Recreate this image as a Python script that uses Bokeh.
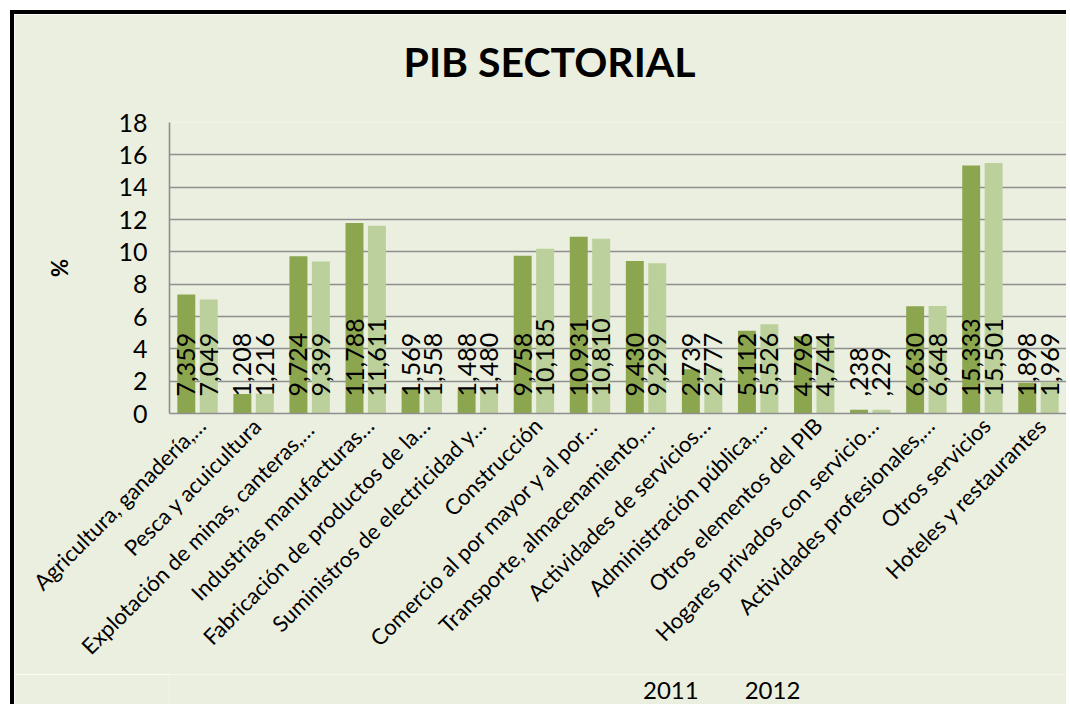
import math
from bokeh.plotting import figure
from bokeh.layouts import column, row
from bokeh.models import ColumnDataSource, Range1d, FixedTicker, Legend, LegendItem, Title, Div, Spacer
from bokeh.core.properties import value
from bokeh.embed import file_html
from bokeh.resources import INLINE

categories = [
    "Agricultura, ganadería,…",
    "Pesca y acuicultura",
    "Explotación  de minas, canteras,…",
    "Industrias manufacturas…",
    "Fabricación de productos de la…",
    "Suministros de electricidad y…",
    "Construcción",
    "Comercio al por mayor y al por…",
    "Transporte, almacenamiento,…",
    "Actividades de servicios…",
    "Administración pública,…",
    "Otros elementos del PIB",
    "Hogares privados con servicio…",
    "Actividades profesionales,…",
    "Otros servicios",
    "Hoteles y restaurantes",
]
values_2011 = [7.359, 1.208, 9.724, 11.788, 1.569, 1.488, 9.758, 10.931, 9.430, 2.739, 5.112, 4.796, 0.238, 6.630, 15.333, 1.898]
values_2012 = [7.049, 1.216, 9.399, 11.611, 1.558, 1.480, 10.185, 10.810, 9.299, 2.777, 5.526, 4.744, 0.229, 6.648, 15.501, 1.969]
series_names = ["2011", "2012"]
y_ticks = [0, 2, 4, 6, 8, 10, 12, 14, 16, 18]
title_text = "PIB SECTORIAL"
y_label = "%"

BG = "#EBEFDF"
C2011 = "#8CA650"
C2012 = "#BBD09A"
GRID = "#8E8E8E"
FONT = "Lato"

BAR_OFF = 0.2     # offset of each series' bar from the category centre
BAR_W = 0.32
LABEL_SHIFT = 0.07  # category label anchor shift (Excel-like placement)


def fmt(v):
    s = f"{v:.3f}".replace(".", ",")
    if s.startswith("0,"):
        s = s[1:]
    return s


n = len(categories)
centers = [i + 0.5 for i in range(n)]
src = ColumnDataSource(dict(
    x1=[c - BAR_OFF for c in centers],
    x2=[c + BAR_OFF for c in centers],
    v2011=values_2011,
    v2012=values_2012,
    t2011=[fmt(v) for v in values_2011],
    t2012=[fmt(v) for v in values_2012],
    zero=[0] * n,
))

# ---------------- main chart ----------------
p = figure(
    x_range=Range1d(0, n),
    y_range=Range1d(0, y_ticks[-1]),
    width=1052, height=660,
    output_backend="svg", toolbar_location=None,
    min_border_left=155, min_border_right=0, min_border_top=108, min_border_bottom=261,
    margin=0,
)
p.background_fill_color = BG
p.border_fill_color = BG
p.outline_line_color = None

p.vbar(x="x1", top="v2011", width=BAR_W, source=src, fill_color=C2011, line_color=None)
p.vbar(x="x2", top="v2012", width=BAR_W, source=src, fill_color=C2012, line_color=None)

for xcol, tcol in (("x1", "t2011"), ("x2", "t2012")):
    p.text(x=xcol, y="zero", text=tcol, source=src,
           angle=math.pi / 2, text_align="left", text_baseline="middle",
           y_offset=-17, text_font=value(FONT), text_font_size="25px", text_color="black")

# spacer between plot area and title, then the title itself
p.add_layout(Title(text=" ", text_font_size="20px", standoff=8), "above")
p.add_layout(Title(text=title_text, align="left", offset=234, text_font=FONT,
                   text_font_size="41px", text_font_style="bold", text_color="black",
                   standoff=10), "above")

p.xgrid.grid_line_color = None
p.ygrid.grid_line_color = GRID
p.ygrid.grid_line_width = 1.6
p.yaxis.ticker = FixedTicker(ticks=y_ticks)
p.yaxis.axis_line_color = GRID
p.yaxis.axis_line_width = 1.6
p.yaxis.major_tick_line_color = None
p.yaxis.minor_tick_line_color = None
p.yaxis.major_label_standoff = 16
p.yaxis.major_label_text_font = FONT
p.yaxis.major_label_text_font_size = "25px"
p.yaxis.major_label_text_color = "black"
p.yaxis.axis_label = y_label
p.yaxis.axis_label_text_font = FONT
p.yaxis.axis_label_text_font_size = "22px"
p.yaxis.axis_label_text_font_style = "bold"
p.yaxis.axis_label_text_color = "black"
p.yaxis.axis_label_standoff = 42

label_ticks = [c + LABEL_SHIFT for c in centers]
p.xaxis.ticker = FixedTicker(ticks=label_ticks)
p.xaxis.major_label_overrides = {t: c for t, c in zip(label_ticks, categories)}
p.xaxis.axis_line_color = GRID
p.xaxis.axis_line_width = 1.6
p.xaxis.major_tick_line_color = None
p.xaxis.minor_tick_line_color = None
p.xaxis.major_label_orientation = math.pi / 4
p.xaxis.major_label_standoff = 2
p.xaxis.major_label_text_font = FONT
p.xaxis.major_label_text_font_size = "22px"
p.xaxis.major_label_text_color = "black"

# ---------------- legend strip ----------------
lf = figure(width=1052, height=30, x_range=Range1d(0, 1), y_range=Range1d(0, 1),
            x_axis_type=None, y_axis_type=None, output_backend="svg", toolbar_location=None,
            min_border=0, margin=0)
lf.background_fill_color = BG
lf.border_fill_color = BG
lf.outline_line_color = None
lf.xgrid.visible = False
lf.ygrid.visible = False
lr1 = lf.vbar(x=[], top=[], width=0.1, fill_color=C2011, line_color=None)
lr2 = lf.vbar(x=[], top=[], width=0.1, fill_color=C2012, line_color=None)
legend = Legend(items=[LegendItem(label=series_names[0], renderers=[lr1]),
                       LegendItem(label=series_names[1], renderers=[lr2])],
                orientation="horizontal", location=(452, 0),
                background_fill_alpha=0, border_line_color=None,
                padding=0, margin=0, spacing=24, label_standoff=7,
                glyph_width=15, glyph_height=15,
                label_text_font=FONT, label_text_font_size="24px", label_text_color="black")
lf.add_layout(legend, "center")

# ---------------- page layout with black chart border (top and left) ----------------
border_top = Div(text="", width=1056, height=4, margin=0, styles={"background-color": "black"})
border_left = Div(text="", width=4, height=690, margin=0, styles={"background-color": "black"})
charts = column(p, lf, spacing=0, margin=0)
chart = column(border_top, row(border_left, charts, spacing=0, margin=0), spacing=0, margin=0)
layout = column(Spacer(width=10, height=10, margin=0),
                row(Spacer(width=10, height=10, margin=0), chart, spacing=0, margin=0),
                spacing=0, margin=0)

open("out.html", "w").write(file_html(layout, INLINE))
